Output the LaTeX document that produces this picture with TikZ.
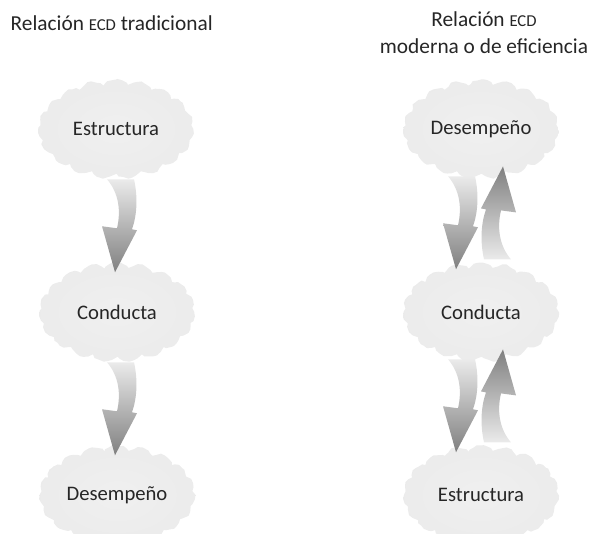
\documentclass[tikz,border=0pt]{standalone}
\usepackage{fontspec}
\setmainfont{Carlito}
\usetikzlibrary{shapes.symbols, decorations.pathmorphing, calc}
\pgfdeclareradialshading{cloudrim}{\pgfpoint{0bp}{0bp}}{color(0bp)=(black!6); color(30bp)=(black!8); color(39bp)=(black!14); color(45bp)=(black!33); color(50bp)=(black!55); color(70bp)=(black!60)}
\tikzset{cloudbox/.style={cloud, cloud puffs=19, cloud puff arc=105, cloud ignores aspect, minimum width=116pt, minimum height=74pt, inner sep=0pt, shade, shading=cloudrim, decorate, decoration={random steps, segment length=3pt, amplitude=0.7pt}, font=\fontsize{15.5}{17}\selectfont, text=black!85}}
\tikzset{flowdown/.style={top color=black!8, bottom color=black!50}}
\tikzset{flowup/.style={top color=black!50, bottom color=black!8}}
\tikzset{title/.style={font=\fontsize{16}{20}\selectfont, text=black!85}}
\newcommand{\flowarrow}[3]{%
  \path[#3, shift={#1}] ({-12*#2},0) -- ({15*#2},0) .. controls ({19*#2},{18*#2}) and ({18*#2},{36*#2}) .. ({13*#2},{50*#2}) -- ({18*#2},{51*#2}) -- ({-4*#2},{93*#2}) -- ({-17*#2},{47*#2}) -- ({-2*#2},{49*#2}) .. controls ({2*#2},{32*#2}) and ({0*#2},{14*#2}) .. ({-12*#2},0) -- cycle;}
\newcommand{\ecd}{{\fontsize{12.5}{12}\selectfont ECD}}

\begin{document}
\begin{tikzpicture}[x=0.75pt, y=-0.75pt]
  \useasboundingbox (0,0) rectangle (592,533);
  % titles
  \node[title, anchor=west] (lt) at (6,23) {Relación \ecd{} tradicional};
  \node[title, align=center] (rt) at (484,33) {Relación \ecd\\moderna o de eficiencia};
  % traditional chain
  \node[cloudbox] (le) at (116,129) {Estructura};
  \node[cloudbox] (lc) at (117,312) {Conducta};
  \node[cloudbox] (ld) at (117,495) {Desempeño};
  % modern chain
  \node[cloudbox] (rd) at (481,129) {Desempeño};
  \node[cloudbox] (rc) at (481,312) {Conducta};
  \node[cloudbox] (re) at (481,495) {Estructura};
  % arrows
  \flowarrow{($(le.south)+(3,6)$)}{1}{flowdown}
  \flowarrow{($(lc.south)+(2,6)$)}{1}{flowdown}
  \flowarrow{($(rd.south)+(-21,3)$)}{1}{flowdown}
  \flowarrow{($(rc.north)+(18,-3)$)}{-1}{flowup}
  \flowarrow{($(rc.south)+(-21,3)$)}{1}{flowdown}
  \flowarrow{($(re.north)+(18,-3)$)}{-1}{flowup}
\end{tikzpicture}
\end{document}
